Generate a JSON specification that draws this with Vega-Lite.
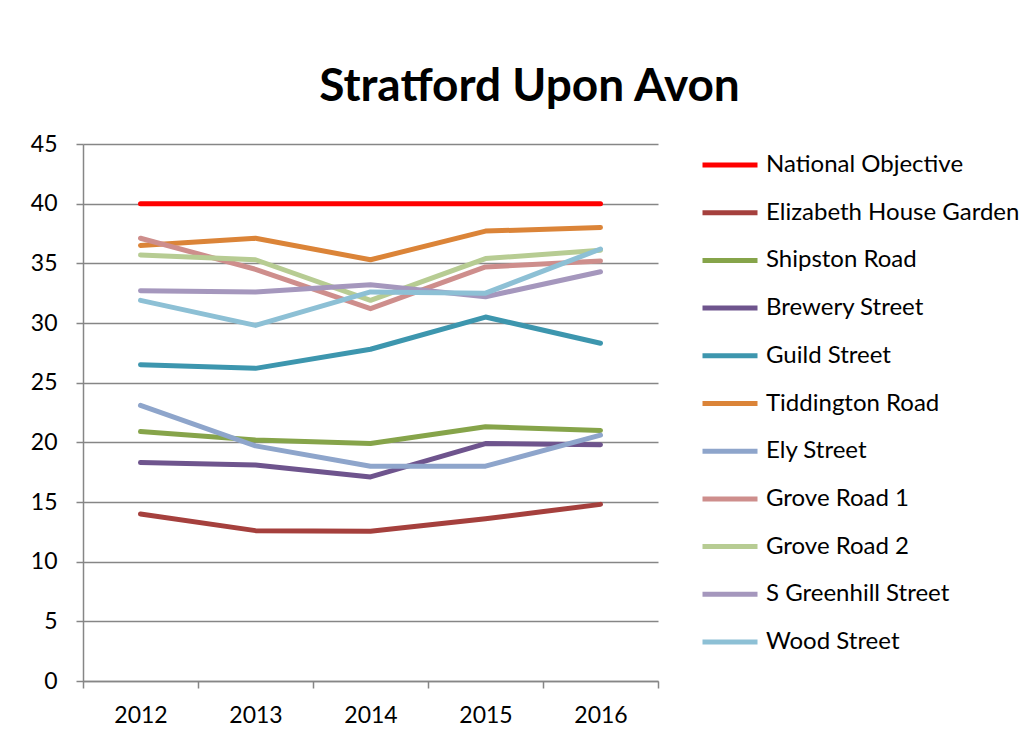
{
  "$schema": "https://vega.github.io/schema/vega-lite/v6.json",
  "width": 575,
  "height": 537,
  "autosize": {"type": "none"},
  "padding": {"left": 83, "top": 144, "right": 374, "bottom": 61},
  "background": "white",
  "title": {
    "text": "Stratford Upon Avon",
    "font": "Lato",
    "fontSize": 46,
    "fontWeight": "bold",
    "color": "#000000",
    "anchor": "middle",
    "baseline": "alphabetic",
    "dx": 159,
    "offset": -14
  },
  "data": {
    "values": [
      {"site": "National Objective", "year": "2012", "value": 40},
      {"site": "National Objective", "year": "2013", "value": 40},
      {"site": "National Objective", "year": "2014", "value": 40},
      {"site": "National Objective", "year": "2015", "value": 40},
      {"site": "National Objective", "year": "2016", "value": 40},
      {"site": "Elizabeth House Garden", "year": "2012", "value": 14.0},
      {"site": "Elizabeth House Garden", "year": "2013", "value": 12.6},
      {"site": "Elizabeth House Garden", "year": "2014", "value": 12.55},
      {"site": "Elizabeth House Garden", "year": "2015", "value": 13.6},
      {"site": "Elizabeth House Garden", "year": "2016", "value": 14.8},
      {"site": "Shipston Road", "year": "2012", "value": 20.9},
      {"site": "Shipston Road", "year": "2013", "value": 20.2},
      {"site": "Shipston Road", "year": "2014", "value": 19.9},
      {"site": "Shipston Road", "year": "2015", "value": 21.3},
      {"site": "Shipston Road", "year": "2016", "value": 21.0},
      {"site": "Brewery Street", "year": "2012", "value": 18.3},
      {"site": "Brewery Street", "year": "2013", "value": 18.1},
      {"site": "Brewery Street", "year": "2014", "value": 17.1},
      {"site": "Brewery Street", "year": "2015", "value": 19.9},
      {"site": "Brewery Street", "year": "2016", "value": 19.8},
      {"site": "Guild Street", "year": "2012", "value": 26.5},
      {"site": "Guild Street", "year": "2013", "value": 26.2},
      {"site": "Guild Street", "year": "2014", "value": 27.8},
      {"site": "Guild Street", "year": "2015", "value": 30.5},
      {"site": "Guild Street", "year": "2016", "value": 28.3},
      {"site": "Tiddington Road", "year": "2012", "value": 36.5},
      {"site": "Tiddington Road", "year": "2013", "value": 37.1},
      {"site": "Tiddington Road", "year": "2014", "value": 35.3},
      {"site": "Tiddington Road", "year": "2015", "value": 37.7},
      {"site": "Tiddington Road", "year": "2016", "value": 38.0},
      {"site": "Ely Street", "year": "2012", "value": 23.1},
      {"site": "Ely Street", "year": "2013", "value": 19.7},
      {"site": "Ely Street", "year": "2014", "value": 18.0},
      {"site": "Ely Street", "year": "2015", "value": 18.0},
      {"site": "Ely Street", "year": "2016", "value": 20.6},
      {"site": "Grove Road 1", "year": "2012", "value": 37.1},
      {"site": "Grove Road 1", "year": "2013", "value": 34.5},
      {"site": "Grove Road 1", "year": "2014", "value": 31.2},
      {"site": "Grove Road 1", "year": "2015", "value": 34.7},
      {"site": "Grove Road 1", "year": "2016", "value": 35.2},
      {"site": "Grove Road 2", "year": "2012", "value": 35.7},
      {"site": "Grove Road 2", "year": "2013", "value": 35.3},
      {"site": "Grove Road 2", "year": "2014", "value": 31.9},
      {"site": "Grove Road 2", "year": "2015", "value": 35.4},
      {"site": "Grove Road 2", "year": "2016", "value": 36.1},
      {"site": "S Greenhill Street", "year": "2012", "value": 32.7},
      {"site": "S Greenhill Street", "year": "2013", "value": 32.6},
      {"site": "S Greenhill Street", "year": "2014", "value": 33.2},
      {"site": "S Greenhill Street", "year": "2015", "value": 32.2},
      {"site": "S Greenhill Street", "year": "2016", "value": 34.3},
      {"site": "Wood Street", "year": "2012", "value": 31.9},
      {"site": "Wood Street", "year": "2013", "value": 29.8},
      {"site": "Wood Street", "year": "2014", "value": 32.6},
      {"site": "Wood Street", "year": "2015", "value": 32.5},
      {"site": "Wood Street", "year": "2016", "value": 36.2}
    ]
  },
  "mark": {"type": "line", "strokeWidth": 5, "strokeCap": "round", "strokeJoin": "round"},
  "encoding": {
    "x": {
      "field": "year",
      "type": "ordinal",
      "bandPosition": 0.5,
      "scale": {"type": "band", "paddingInner": 0, "paddingOuter": 0},
      "axis": {
        "title": null,
        "labelAngle": 0,
        "labelFont": "Lato",
        "labelFontSize": 23,
        "labelColor": "#000000",
        "labelPadding": 16,
        "tickBand": "extent",
        "tickSize": 7,
        "tickColor": "#868686",
        "tickWidth": 1.5,
        "domainColor": "#868686",
        "domainWidth": 1.5,
        "grid": false
      }
    },
    "y": {
      "field": "value",
      "type": "quantitative",
      "scale": {"domain": [0, 45], "nice": false},
      "axis": {
        "title": null,
        "values": [0, 5, 10, 15, 20, 25, 30, 35, 40, 45],
        "labelFont": "Lato",
        "labelFontSize": 23,
        "labelColor": "#000000",
        "labelPadding": 19,
        "tickSize": 7,
        "tickColor": "#868686",
        "tickWidth": 1.5,
        "domainColor": "#868686",
        "domainWidth": 1.5,
        "grid": true,
        "gridColor": "#868686",
        "gridWidth": 1.5
      }
    },
    "color": {
      "field": "site",
      "type": "nominal",
      "sort": null,
      "scale": {
        "domain": ["National Objective", "Elizabeth House Garden", "Shipston Road", "Brewery Street", "Guild Street", "Tiddington Road", "Ely Street", "Grove Road 1", "Grove Road 2", "S Greenhill Street", "Wood Street"],
        "range": ["#FF0000", "#A5403D", "#86A44A", "#6E548D", "#3D96AE", "#DB8438", "#8EA5CB", "#CE8E8C", "#B7CC93", "#A597BD", "#8DC0D5"]
      },
      "legend": {
        "title": null,
        "orient": "none",
        "legendX": 617,
        "legendY": -9,
        "symbolType": "stroke",
        "symbolSize": 3025,
        "symbolStrokeWidth": 5,
        "labelFont": "Lato",
        "labelFontSize": 24,
        "labelColor": "#000000",
        "labelOffset": 6,
        "rowPadding": 5.7,
        "labelLimit": 400
      }
    }
  },
  "config": {
    "view": {"stroke": null}
  }
}
